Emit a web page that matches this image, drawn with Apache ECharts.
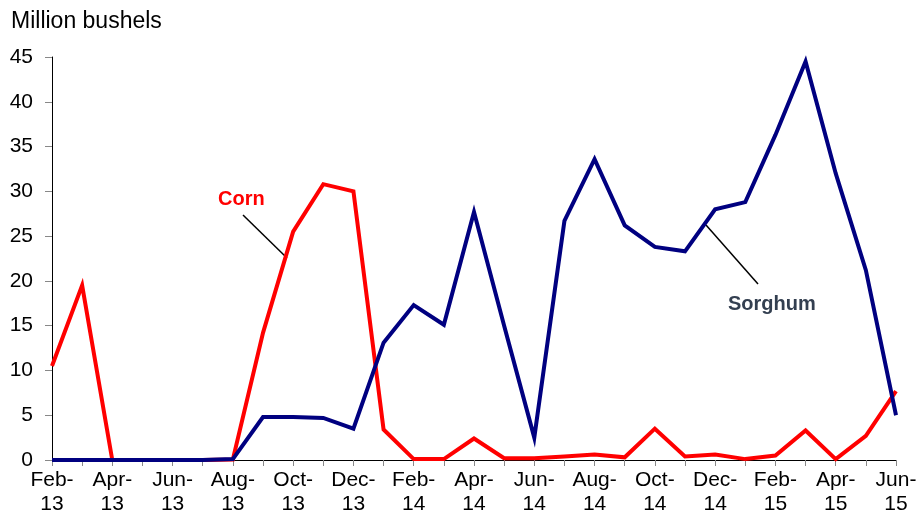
<!DOCTYPE html>
<html>
<head>
<meta charset="utf-8">
<script src="https://cdn.jsdelivr.net/npm/echarts@6/dist/echarts.min.js"></script>
<style>
  html, body { margin: 0; padding: 0; background: #fff; }
  #chart { width: 917px; height: 518px; }
</style>
</head>
<body>
<div id="chart"></div>
<script>
// 月份（Feb-13 .. Jun-15）
const months = [
    'Feb-13', 'Mar-13', 'Apr-13', 'May-13', 'Jun-13', 'Jul-13', 'Aug-13', 'Sep-13', 'Oct-13', 'Nov-13', 'Dec-13',
    'Jan-14', 'Feb-14', 'Mar-14', 'Apr-14', 'May-14', 'Jun-14', 'Jul-14', 'Aug-14', 'Sep-14', 'Oct-14', 'Nov-14', 'Dec-14',
    'Jan-15', 'Feb-15', 'Mar-15', 'Apr-15', 'May-15', 'Jun-15'
];

const corn = [
    10.5, 19.5, 0, 0, 0, 0, 0.05, 14.2, 25.5, 30.8, 30.0,
    3.4, 0.1, 0.1, 2.4, 0.2, 0.2, 0.4, 0.6, 0.3, 3.5, 0.4, 0.6,
    0.1, 0.5, 3.3, 0.1, 2.7, 7.7
];

const sorghum = [
    0, 0, 0, 0, 0, 0, 0.1, 4.8, 4.8, 4.7, 3.5,
    13.1, 17.3, 15.1, 27.7, 15.0, 2.5, 26.7, 33.6, 26.2, 23.8, 23.3, 28.0,
    28.8, 36.3, 44.5, 32.0, 21.2, 5.0
];

const yTicks = { min: 0, max: 45, interval: 5 };

const chart = echarts.init(document.getElementById('chart'));

const font = 'Liberation Sans, Arial, sans-serif';

const option = {
    animation: false,
    grid: { left: 52, right: 21, top: 57, bottom: 58, containLabel: false, outerBoundsMode: 'none' },
    xAxis: {
        type: 'category',
        data: months,
        boundaryGap: false,
        axisLine: { lineStyle: { color: '#000', width: 1 } },
        axisTick: { show: true, interval: 0, length: 6, lineStyle: { color: '#888' } },
        axisLabel: {
            interval: 1,
            color: '#000',
            fontSize: 21,
            fontFamily: font,
            lineHeight: 24,
            margin: 8,
            formatter: v => v.replace('-', '-\n')
        },
        splitLine: { show: false }
    },
    yAxis: {
        type: 'value',
        min: yTicks.min,
        max: yTicks.max,
        interval: yTicks.interval,
        axisLine: { show: true, lineStyle: { color: '#000', width: 1 } },
        axisTick: { show: true, length: 7, lineStyle: { color: '#888' } },
        axisLabel: { color: '#000', fontSize: 21, fontFamily: font, margin: 19 },
        splitLine: { show: false }
    },
    series: [
        {
            name: 'Corn',
            type: 'line',
            data: corn,
            symbol: 'none',
            lineStyle: { color: '#ff0000', width: 4, join: 'miter' }
        },
        {
            name: 'Sorghum',
            type: 'line',
            data: sorghum,
            symbol: 'none',
            lineStyle: { color: '#000080', width: 4, join: 'miter' }
        }
    ],
    graphic: [
        {
            type: 'text', left: 11, top: 10,
            style: { text: 'Million bushels', font: '23px ' + font, fill: '#000' }
        },
        {
            type: 'text', left: 218, top: 189,
            style: { text: 'Corn', font: 'bold 20px ' + font, fill: '#ff0000' }
        },
        {
            type: 'line',
            shape: { x1: 243, y1: 215, x2: 287, y2: 258 },
            style: { stroke: '#000', lineWidth: 1.5 }
        },
        {
            type: 'text', left: 728, top: 294,
            style: { text: 'Sorghum', font: 'bold 20px ' + font, fill: '#333f50' }
        },
        {
            type: 'line',
            shape: { x1: 706, y1: 225, x2: 758, y2: 284 },
            style: { stroke: '#000', lineWidth: 1.5 }
        }
    ]
};

chart.setOption(option);

window.addEventListener('resize', () => {
    chart.resize();
});
</script>
</body>
</html>
